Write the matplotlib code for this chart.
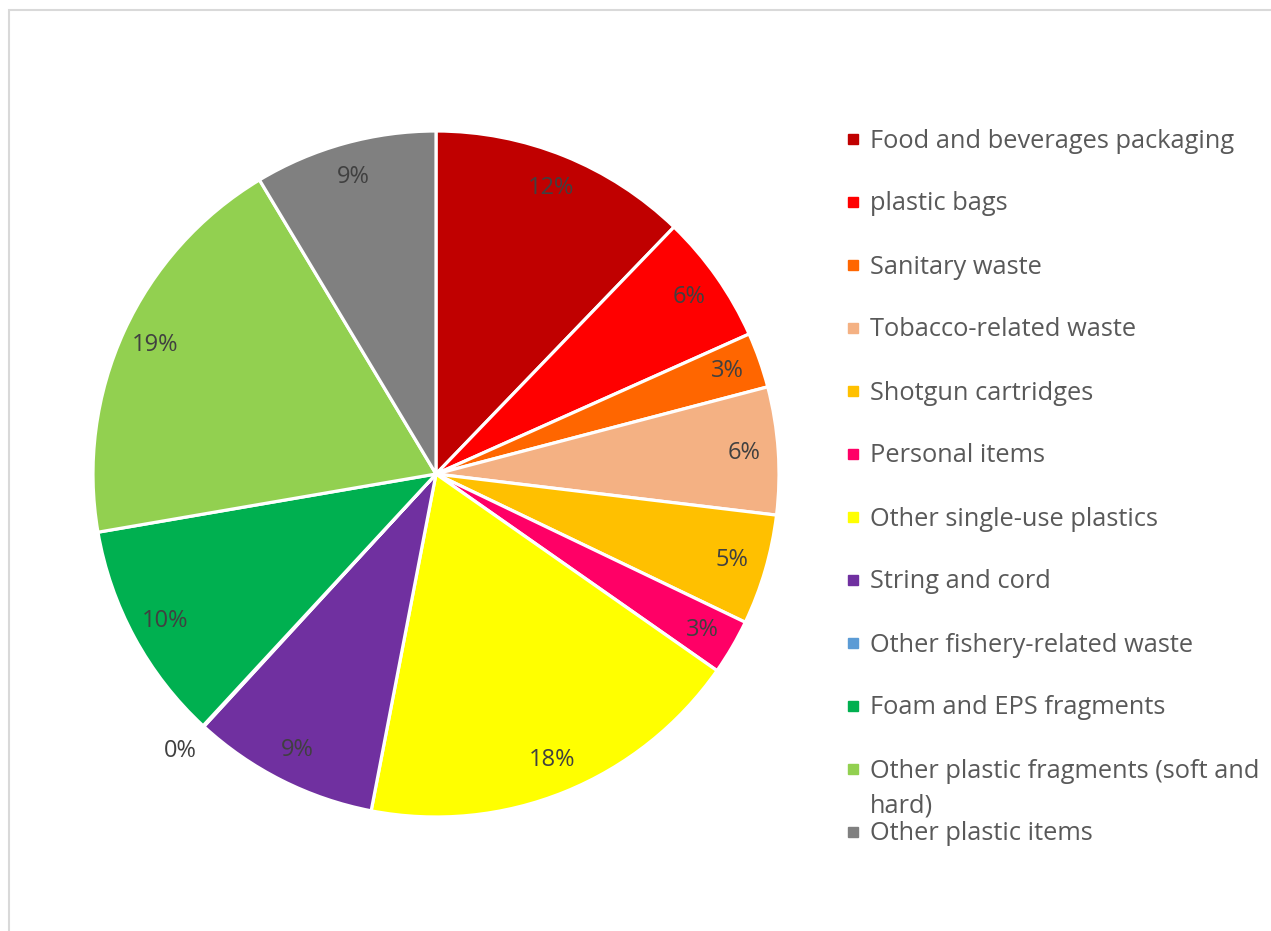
import numpy as np
import matplotlib.pyplot as plt
from matplotlib.patches import Rectangle

categories = [
    "Food and beverages packaging",
    "plastic bags",
    "Sanitary waste",
    "Tobacco-related waste",
    "Shotgun cartridges",
    "Personal items",
    "Other single-use plastics",
    "String and cord",
    "Other fishery-related waste",
    "Foam and EPS fragments",
    "Other plastic fragments (soft and\nhard)",
    "Other plastic items",
]
shares = [12.2, 6.1, 2.6, 6.0, 5.2, 2.6, 18.3, 8.8, 0.05, 10.4, 19.1, 8.6]
colors = ["#C00000", "#FF0000", "#FF6600", "#F4B183", "#FFC000", "#FF0066",
          "#FFFF00", "#7030A0", "#5B9BD5", "#00B050", "#92D050", "#808080"]

W, H = 1271, 931
fig = plt.figure(figsize=(W / 100, H / 100), dpi=100)

# light chart-area border (cut off at right/bottom like the source)
fig.patches.append(Rectangle((9 / W, -0.1), 1.2, 1 - 10 / H + 0.1,
                             transform=fig.transFigure, fill=False,
                             edgecolor="#D9D9D9", linewidth=1.5))

cx, cy, r = 436, 474, 343
ax = fig.add_axes([(cx - r) / W, (H - cy - r) / H, 2 * r / W, 2 * r / H])
wedges, texts, autotexts = ax.pie(
    shares, colors=colors, startangle=90, counterclock=False,
    autopct="%.0f%%", pctdistance=0.9,
    wedgeprops=dict(edgecolor="white", linewidth=2.3),
    textprops=dict(color="#404040", fontsize=17, family="Open Sans"))
ax.set_xlim(-1, 1)
ax.set_ylim(-1, 1)

# tiny slice: label sits outside the pie
for w, t, v in zip(wedges, autotexts, shares):
    if v < 1:
        ang = np.deg2rad((w.theta1 + w.theta2) / 2)
        t.set_position((1.1 * np.cos(ang), 1.1 * np.sin(ang)))

# legend
for i, (lab, col) in enumerate(zip(categories, colors)):
    y = 139 + 63 * i
    fig.patches.append(Rectangle((848 / W, 1 - (y + 5) / H), 10 / W, 10 / H,
                                 transform=fig.transFigure, color=col))
    for k, line in enumerate(lab.split("\n")):
        fig.text(870 / W, 1 - (y + 2 + 35 * k) / H, line, color="#595959",
                 fontsize=18.3, family="Open Sans", va="center", ha="left")

fig.savefig("out.png", dpi=100)
